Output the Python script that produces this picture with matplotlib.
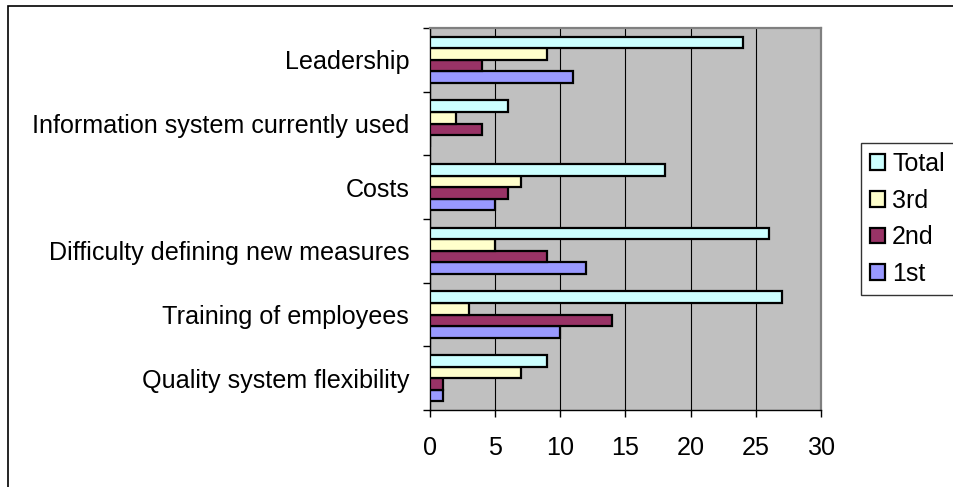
import matplotlib
matplotlib.use("Agg")
import matplotlib.pyplot as plt
import numpy as np
from matplotlib.patches import Rectangle, Patch

categories = ["Quality system flexibility", "Training of employees",
              "Difficulty defining new measures", "Costs",
              "Information system currently used", "Leadership"]
series_names = ["1st", "2nd", "3rd", "Total"]
first = [1, 10, 12, 5, 0, 11]
second = [1, 14, 9, 6, 4, 4]
third = [7, 3, 5, 7, 2, 9]
total = [9, 27, 26, 18, 6, 24]
x_ticks = [0, 5, 10, 15, 20, 25, 30]

colors = {"1st": "#9999FF", "2nd": "#993366", "3rd": "#FFFFCC", "Total": "#CCFFFF"}
values = {"1st": first, "2nd": second, "3rd": third, "Total": total}

plt.rcParams['font.family'] = ['Liberation Sans', 'DejaVu Sans']
W, H = 954, 487
fig = plt.figure(figsize=(W / 100, H / 100), dpi=100)
fig.patch.set_facecolor("white")

# outer chart border
fig.patches.append(Rectangle((8 / W, -0.1), 1.2, 1 - 6 / H + 0.1, transform=fig.transFigure,
                             fill=False, edgecolor="black", linewidth=1.2))

L, R, T, B = 430, 821, 28, 410
ax = fig.add_axes([L / W, 1 - B / H, (R - L) / W, (B - T) / H])
ax.set_facecolor("#C0C0C0")

n = len(series_names)
bw = 1 / (n + 1.5)
y = np.arange(len(categories))
for i, s in enumerate(series_names):
    off = (i - (n - 1) / 2) * bw
    ax.barh(y + off, values[s], height=bw, color=colors[s], edgecolor="black",
            linewidth=1.6, zorder=3)

ax.set_xlim(0, 30)
ax.set_ylim(-0.5, len(categories) - 0.5)
ax.set_xticks(x_ticks)
ax.set_xticklabels([str(t) for t in x_ticks])
ax.set_yticks(y)
ax.set_yticklabels(categories)
ax.set_yticks(np.arange(-0.5, len(categories)), minor=True)
ax.tick_params(axis="y", which="major", length=0, pad=15, labelsize=18.1)
ax.tick_params(axis="y", which="minor", length=5, width=1, direction="out", color="black")
ax.tick_params(axis="x", length=5, width=1, direction="out", pad=14, labelsize=18.1)
ax.grid(axis="x", color="black", linewidth=0.8, zorder=1)
ax.set_axisbelow(True)
for side in ["top", "right"]:
    ax.spines[side].set_color("#808080")
    ax.spines[side].set_linewidth(1.6)
for side in ["left", "bottom"]:
    ax.spines[side].set_color("black")
    ax.spines[side].set_linewidth(1)

handles = [Patch(facecolor=colors[s], edgecolor="black", linewidth=1.6, label=s)
           for s in reversed(series_names)]
leg = fig.legend(handles=handles, loc="upper left", bbox_to_anchor=(861 / W, 1 - 143 / H),
                 frameon=True, fancybox=False, edgecolor="black", fontsize=18,
                 handlelength=0.6, handleheight=0.6, handletextpad=0.3,
                 labelspacing=0.51, borderpad=0.35, borderaxespad=0)
leg.get_frame().set_linewidth(1)

fig.savefig("out.png", dpi=100)
